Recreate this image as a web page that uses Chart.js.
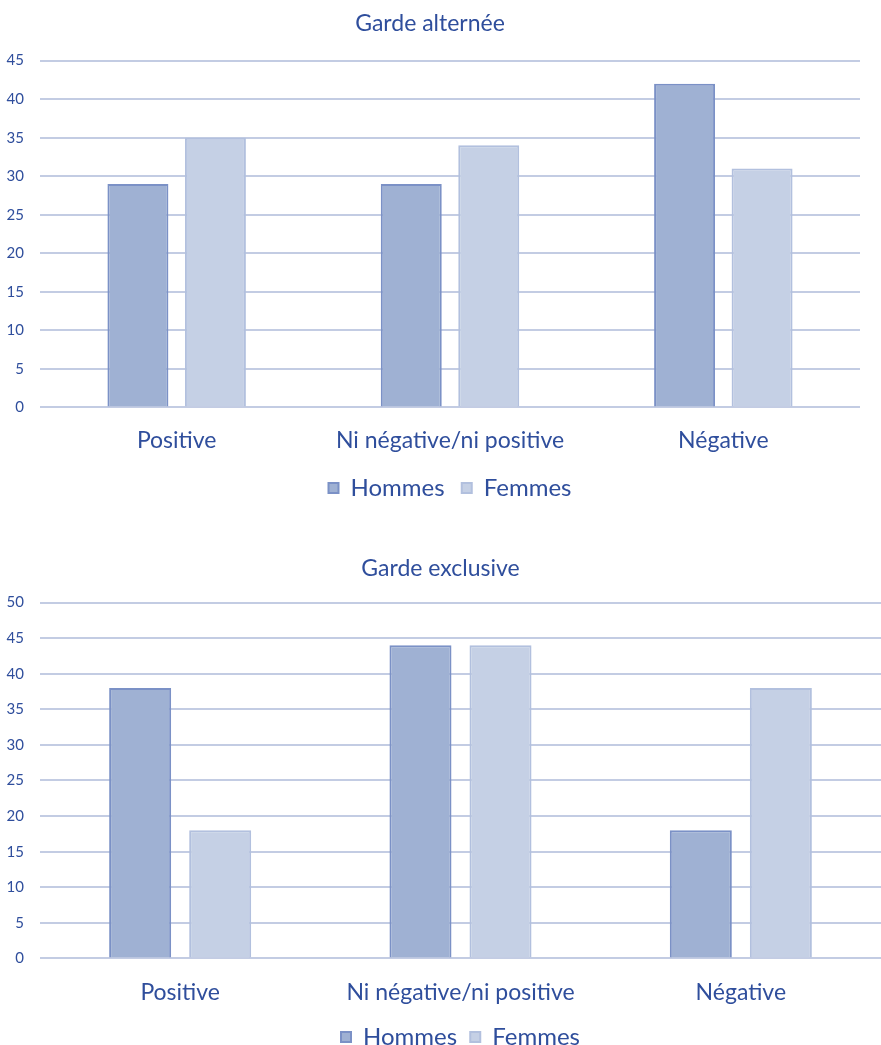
<!DOCTYPE html>
<html>
<head>
<meta charset="utf-8">
<script src="https://cdn.jsdelivr.net/npm/chart.js@4"></script>
<style>
  body { margin: 0; background: #fff; overflow: hidden; }
  .box { position: absolute; left: 0; width: 881px; }
  #top { top: 0; height: 510px; }
  #bottom { top: 545px; height: 514px; }
</style>
</head>
<body>
<div class="box" id="top"><canvas id="alterneeChart"></canvas></div>
<div class="box" id="bottom"><canvas id="exclusiveChart"></canvas></div>
<script>
// Data
const categories = ['Positive', 'Ni négative/ni positive', 'Négative'];
const seriesNames = ['Hommes', 'Femmes'];
const hommesAlternee = [29, 29, 42];
const femmesAlternee = [35, 34, 31];
const hommesExclusive = [38, 44, 18];
const femmesExclusive = [18, 44, 38];

const textColor = '#2f4e9c';
const gridColor = '#c3cce3';

// default legend items, with a little extra room after the first one
function legendItems(chart) {
  const items = Chart.defaults.plugins.legend.labels.generateLabels(chart);
  items[0].text = items[0].text + ' ';
  return items;
}

function makeChart(id, title, hommes, femmes, yMax, padRight, catPct, barPct, titlePadBottom, xPad, legendPad) {
  const ctx = document.getElementById(id).getContext('2d');
  return new Chart(ctx, {
    type: 'bar',
    data: {
      labels: categories,
      datasets: [{
        label: seriesNames[0],
        data: hommes,
        backgroundColor: '#9fb1d3',
        borderColor: '#7b91c6',
        borderWidth: 2,
        borderSkipped: 'bottom'
      }, {
        label: seriesNames[1],
        data: femmes,
        backgroundColor: '#c5d0e5',
        borderColor: '#b2c0de',
        borderWidth: 2,
        borderSkipped: 'bottom'
      }]
    },
    options: {
      responsive: true,
      maintainAspectRatio: false,
      animation: false,
      categoryPercentage: catPct,
      barPercentage: barPct,
      layout: { padding: { left: 0, right: padRight, top: 0, bottom: 0 } },
      plugins: {
        title: {
          display: true,
          text: title,
          color: textColor,
          font: { family: 'Lato', size: 23, weight: 'normal' },
          padding: { top: 10, bottom: titlePadBottom }
        },
        legend: {
          position: 'bottom',
          fullSize: false,
          labels: {
            color: textColor,
            font: { family: 'Lato', size: 24 },
            boxWidth: 10,
            boxHeight: 10,
            padding: legendPad,
            generateLabels: legendItems
          }
        },
        tooltip: { enabled: false }
      },
      scales: {
        x: {
          grid: { display: false },
          border: { display: false },
          ticks: {
            color: textColor,
            font: { family: 'Lato', size: 23 },
            padding: xPad
          }
        },
        y: {
          min: 0,
          max: yMax,
          border: { display: false },
          grid: { color: gridColor, lineWidth: 2, drawTicks: false },
          ticks: {
            stepSize: 5,
            color: textColor,
            font: { family: 'Lato', size: 15 },
            padding: 16
          },
          afterFit: function(scale) { scale.width = 40; }
        }
      }
    }
  });
}

makeChart('alterneeChart', 'Garde alternée', hommesAlternee, femmesAlternee, 45, 21, 0.567, 0.787, 23, 11, 11);
makeChart('exclusiveChart', 'Garde exclusive', hommesExclusive, femmesExclusive, 50, 0, 0.571, 0.775, 20, 12, 7);
</script>
</body>
</html>
